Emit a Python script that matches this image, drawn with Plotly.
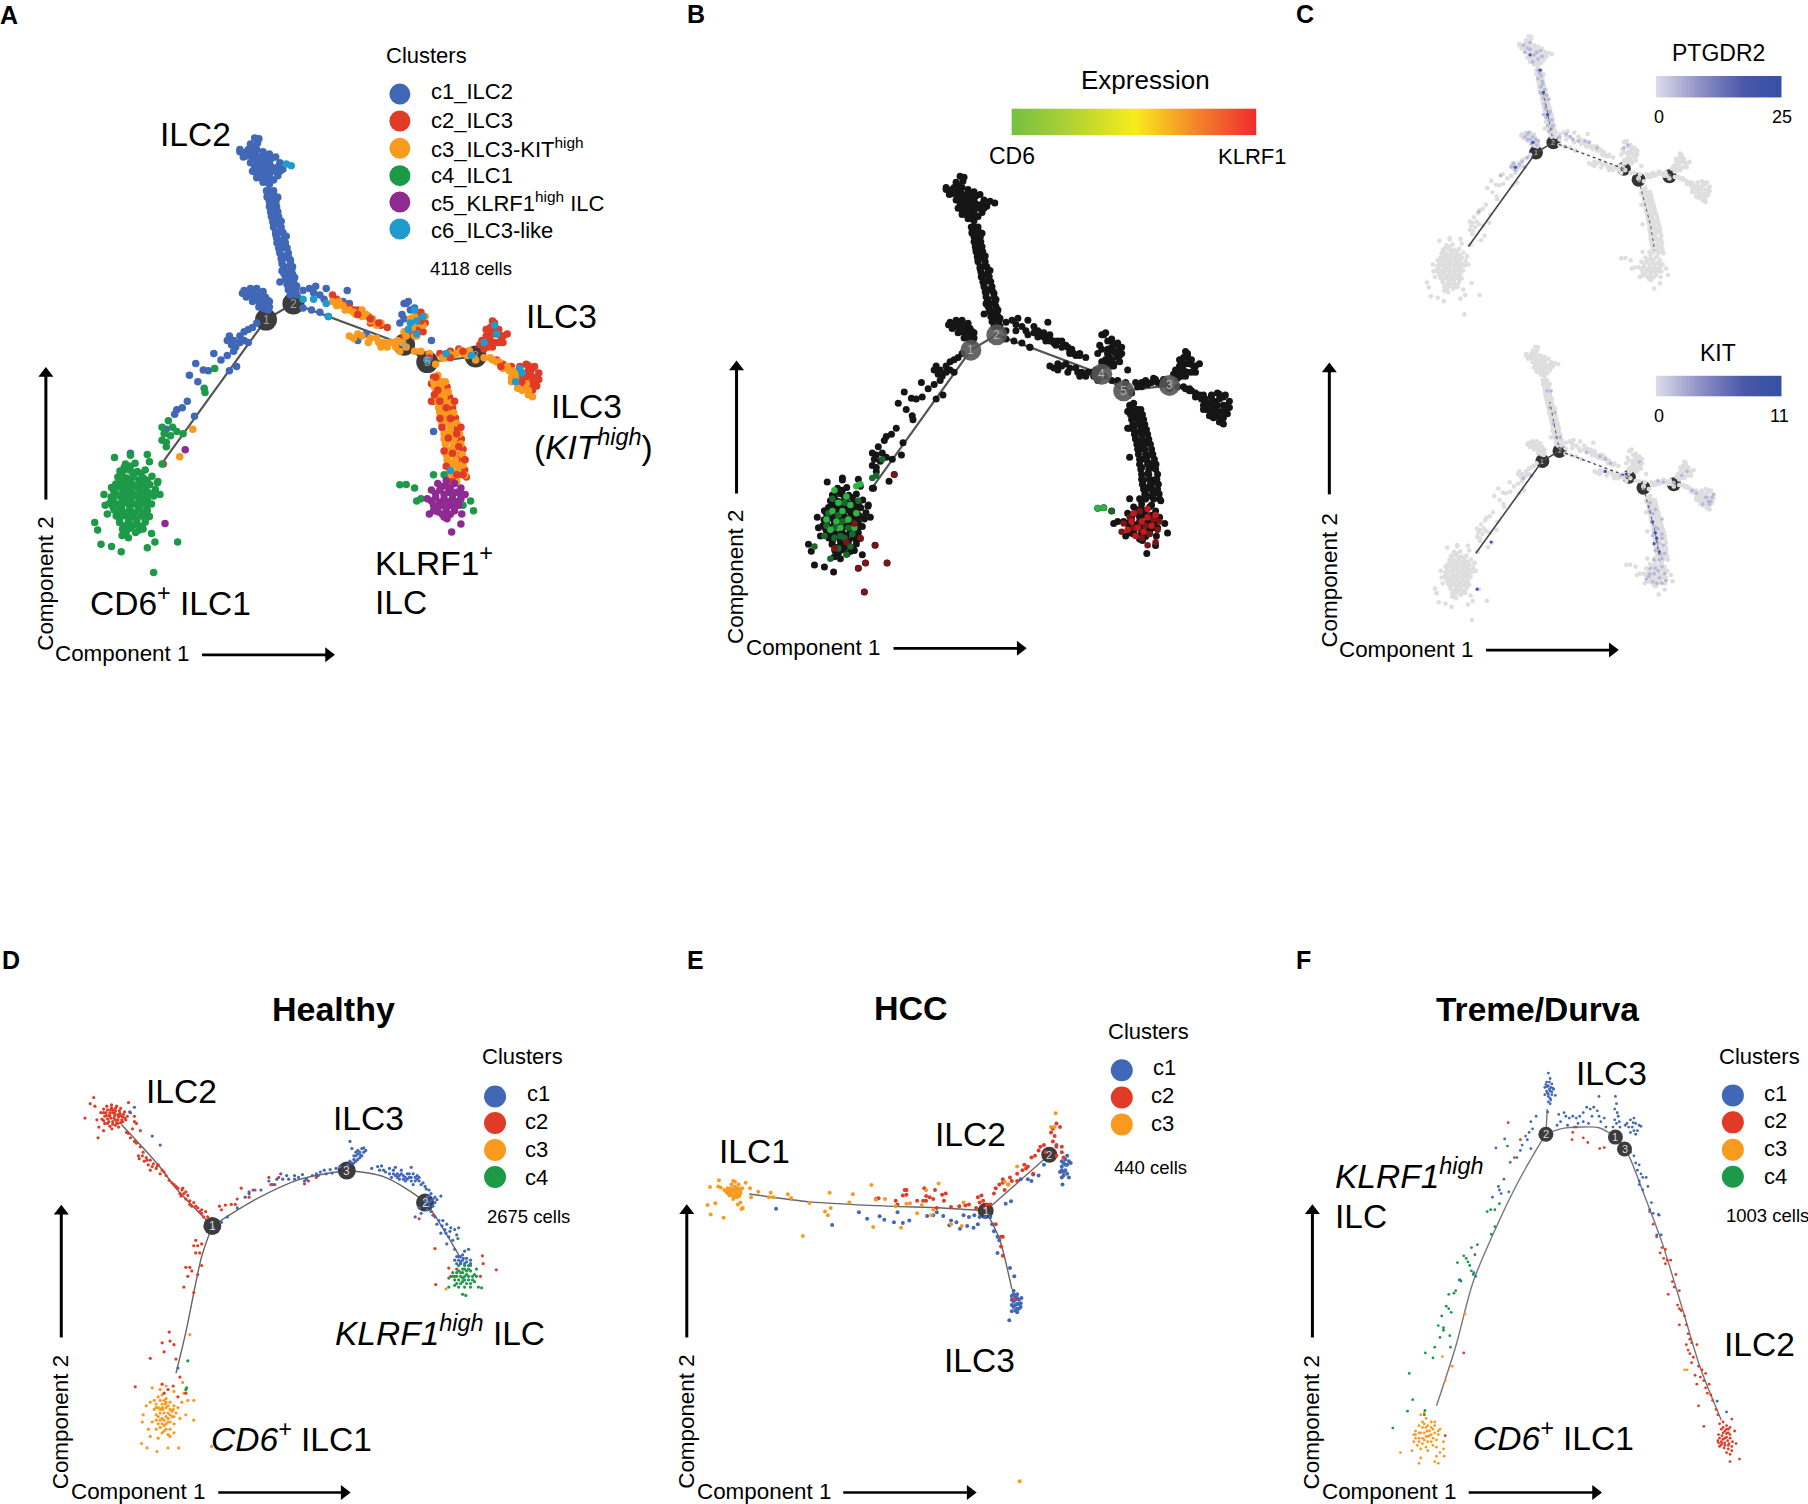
import plotly.graph_objects as go

W, H = 1808, 1504
FONT = "Liberation Sans"
BLUE, RED, ORANGE, GREEN, PURPLE, CYAN = "#4068b6", "#e03b26", "#f89a1d", "#1c9a48", "#8e2b92", "#1f9ccb"

# ---- 4118-cell trajectory (panels A, B, C); Component 1 / Component 2 ----
all_c1 = [(605,318),(612,330),(600,340),(590,345),(570,350),(578,362),(590,358),(610,345),(625,350),(640,355),(655,362),(665,375),(672,390),(660,405),(650,415),(640,425),(625,420),(610,410),(600,395),(595,375),(610,375),(625,375),(640,375),(650,390),(635,395),(620,395),(610,360),(625,362),(640,405),(625,408),
(600,365),(615,365),(630,365),(645,365),(605,385),(615,385),(630,385),(645,385),(660,385),(610,400),(630,410),(645,395),(655,395),(620,410),(600,350),(585,350),(595,332),(615,320),(570,345),(635,420),(640,415),(585,360),(665,395),
(640,440),(650,450),(635,455),(645,470),(660,455),(650,485),(655,500),(645,495),(660,515),(650,520),(665,535),(655,540),(670,555),(660,560),(675,570),(665,580),(680,590),(670,600),(690,600),(675,615),(685,625),(695,615),(680,640),(690,645),(700,640),(685,655),(695,665),(705,660),(665,650),(690,680),(670,625),(680,545),(668,510),(655,465),
(633,440),(650,440),(635,452),(652,452),(640,464),(655,464),(640,476),(657,476),(643,488),(660,488),(645,500),(662,500),(648,512),(665,512),(650,524),(668,524),(655,536),(672,536),(657,548),(675,548),(658,560),(678,560),(662,572),(682,572),(665,584),(685,584),(668,596),(687,596),(670,608),(690,608),(673,620),(693,620),(675,632),(695,632),(678,644),(698,644),(682,656),(700,656),(685,668),(702,668),(705,680),
(580,670),(595,665),(610,665),(625,672),(585,685),(600,680),(615,680),(630,685),(600,695),(615,695),(630,700),(640,695),(615,708),(628,712),(640,708),(590,675),(605,672),(620,685),(608,688),(622,690),(635,692),(622,705),(637,715),(592,680),(576,676),
(545,775),(555,785),(540,785),(550,795),(560,800),(555,810),(570,775),(580,765),(590,760),(600,755),(580,785),(590,790),(610,745),(570,790),(508,815),(525,830),(495,855),(540,820),(465,838),(450,865),(483,853),(470,880),(545,855),(562,845),(420,945),(433,940),(415,955),(462,960),(445,925),(395,990),
(720,670),(735,665),(750,660),(745,675),(760,680),(770,690),(775,665),(825,670),(830,700),(815,695),(720,710),(740,715),(760,720),(780,730),(850,785),(870,770),(965,700),(975,715),(960,735),(950,745),(1025,785),(1030,995),(310,1045),(960,700),(970,695),(985,710),(955,725)]
all_c2 = [(790,680),(810,700),(830,710),(850,715),(875,730),(890,745),(905,750),(920,755),(1000,720),(1005,735),(1000,755),(985,760),(975,770),(960,775),(800,690),(820,705),(840,715),(865,725),(880,745),(990,725),(1010,745),(1005,765),
(1170,740),(1175,755),(1160,770),(1180,770),(1195,775),(1150,790),(1165,785),(1185,790),(1170,800),(1150,805),(1195,790),(1145,785),(1155,775),(1165,755),(1175,745),(1190,775),(1205,770),(1160,800),(1175,790),(1140,795),(1170,770),(1185,760),(1155,760),
(1180,830),(1195,840),(1215,845),(1235,845),(1250,840),(1265,850),(1275,870),(1260,885),(1275,890),(1250,870),(1235,865),(1265,900),(1245,890),(1240,860),(1255,855),(1270,845),(1280,860),(1280,875),(1265,870),(1270,885),(1245,875),(1255,843),
(1030,870),(1060,900),(1070,935),(1040,925),(1075,960),(1080,990),(1085,1020),(1090,1050),(1095,1075),(1030,925),(1060,960),(1085,1060),(1045,815),(1070,810),(1090,805),(388,1070),(1025,925),(1025,885),
(1062,892),(1068,916),(1075,940),(1082,964),(1088,988),(1096,1012),(1100,1036),(1102,1060),(1104,1084),(1108,1100)]
all_c3 = [(830,775),(850,770),(880,780),(900,790),(920,800),(935,790),(950,810),(965,800),(985,810),(1000,810),(1020,815),(1015,830),(1035,840),(800,705),(820,715),(840,720),(860,730),(880,740),(790,695),(805,695),(815,705),(830,715),(845,725),(860,715),(870,725),(885,735),(895,750),(905,745),(840,780),(860,775),(875,790),(895,780),(910,790),(925,790),(905,800),(940,800),(945,785),(955,790),
(1035,880),(1045,895),(1050,915),(1055,935),(1045,950),(1060,975),(1070,1000),(1060,1020),(1075,1035),(1065,1050),(1075,1070),(1085,1090),(1070,1085),(1085,1110),(1060,1000),(1055,960),(1040,865),(1050,880),(1065,1065),(1080,1010),
(1030,880),(1045,880),(1032,892),(1048,892),(1035,904),(1052,904),(1038,916),(1055,916),(1040,928),(1058,928),(1042,940),(1060,940),(1045,952),(1062,952),(1048,964),(1065,964),(1050,976),(1068,976),(1052,988),(1070,988),(1055,1000),(1072,1000),(1055,1012),(1075,1012),(1058,1024),(1078,1024),(1060,1036),(1078,1036),(1060,1048),(1080,1048),(1062,1060),(1082,1060),(1065,1072),(1085,1072),(1068,1084),(1088,1084),(1070,1096),(1090,1096),
(1058,880),(1065,904),(1072,928),(1078,952),(1085,976),(1092,1000),(1095,1024),(1098,1048),(1100,1072),(1105,1096),
(1225,880),(1240,900),(1255,910),(1215,870),(1195,850),(1180,835),(1210,855),(1170,830),(1185,835),(1205,845),(1220,855),(1235,880),(1255,900),(1225,865),(1265,915),(1230,895),(1215,880),(1250,885),
(1050,825),(1065,815),(1085,815),(1100,815),(1110,820),(1130,830),(1150,825),(1165,825),(1060,825),(1075,820),(1095,808),(1115,808),(975,745),(995,745),(985,730),(970,760),(960,765),(1005,750),(990,775),(980,755),(965,775),(985,775),(1010,730),(975,735),(458,990),(427,1053)]
# c2 cells that lie over the c3 cells
all_c2_top = [(1040,900),(1060,940),(1050,985),(1070,965),(1065,1010),(1085,1000),(1075,1045),(1060,1075),(1085,1095),(1045,925),(1035,870),(1090,1030),(1100,1095),(1075,1110),(900,745),(880,735),(850,725),(1000,740),(1020,825),(1070,825),(1100,810),(1240,880),(1260,860),(1190,845),(1032,910),(1045,965),(1055,1040),(1080,925),(1095,985),(1105,1060)]
all_c4 = [(298,1070),(321,1068),(285,1086),(305,1083),(326,1087),(345,1084),(280,1100),(301,1102),(318,1099),(341,1103),(361,1098),(275,1116),(296,1113),(315,1117),(335,1114),(356,1117),(374,1113),(270,1131),(291,1128),(310,1132),(331,1129),(349,1133),(369,1129),(264,1146),(285,1143),(306,1147),(324,1144),(345,1147),(365,1144),(261,1160),(279,1163),(300,1159),(321,1162),(339,1159),(360,1162),(271,1176),(289,1173),(310,1177),(331,1174),(350,1177),(276,1190),(295,1188),(315,1192),(336,1189),(355,1191),(284,1205),(306,1203),(325,1207),(345,1204),(291,1220),(309,1218),(331,1222),
(310,1075),(295,1078),(315,1090),(335,1092),(290,1093),(310,1108),(330,1108),(350,1108),(285,1108),(305,1123),(325,1123),(345,1123),(283,1122),(265,1124),(275,1138),(295,1138),(315,1138),(335,1138),(355,1138),(270,1153),(290,1152),(310,1153),(330,1153),(350,1153),(268,1168),(288,1167),(308,1168),(328,1168),(348,1168),(280,1182),(300,1182),(320,1183),(342,1183),(285,1197),(305,1196),(325,1198),(345,1196),(298,1212),(316,1212),(335,1214),(300,1226),(322,1228),
(272,1055),(310,1050),(350,1048),(355,1065),(375,1110),(380,1140),(247,1140),(250,1165),(225,1205),(232,1222),(240,1255),(265,1260),(288,1272),(350,1263),(368,1250),(422,1250),(365,1320),(340,1220),(360,1230),(290,1235),(305,1240),(255,1185),(385,1070),(395,1030),
(385,985),(400,970),(410,985),(390,1000),(405,1005),(420,995),(435,1000),(395,1020),(385,1015),(510,850),(485,895),(487,905),
(950,1118),(965,1117),(985,1125),(1000,1150),(990,1155),(1030,1095),(1055,1095),(1125,1178),(1118,1155),(1100,1165),(1095,1145)]
all_c5 = [(1060,1108),(1040,1115),(1060,1120),(1080,1115),(1095,1125),(1025,1130),(1045,1130),(1065,1135),(1085,1135),(1105,1140),(1015,1150),(1035,1148),(1055,1150),(1075,1150),(1095,1150),(1030,1165),(1050,1165),(1070,1165),(1090,1165),(1040,1180),(1060,1180),(1080,1178),(1055,1192),(1020,1185),(1097,1185),(1095,1208),(1073,1227),(392,1207),(440,1037),
(1050,1122),(1070,1125),(1035,1138),(1055,1140),(1075,1140),(1095,1138),(1025,1155),(1045,1158),(1065,1157),(1085,1157),(1040,1172),(1060,1172),(1080,1170),(1050,1185),(1070,1186),(1030,1178),(1062,1196)]
all_c6 = [(680,378),(692,382),(975,745),(990,740),(1005,730),(985,715),(1175,750),(1180,770),(1235,850),(1225,880),(1070,1085),(720,690),(745,690),(780,730),(775,700),(1015,830),(990,770),(1060,815),(1120,820),(1150,790),(1240,860),(970,760)]

traj_main = [(380,1075),(632,737),(697,700),(960,795),(1015,835),(1130,822)]
traj_stems = [[(1015,835),(1060,1000),(1075,1090)],[(697,700),(660,520)]]
nodes_main = [(632,737),(697,700),(960,795),(1015,835),(1130,822)]
nodes_main_labels = ["1","2","4","5","3"]

# expression overlays, panel B
cd6_bright = [(290,1075),(320,1090),(300,1105),(330,1110),(285,1125),(310,1125),(345,1130),(270,1145),(295,1150),(325,1145),(305,1165),(280,1170),(340,1165),(345,1065),(355,1060),(950,1118),(965,1117)]
cd6_dark = [(265,1185),(290,1190),(315,1190),(300,1215),(330,1210),(320,1230),(280,1240),(240,1210),(410,1000),(385,1045),(395,1040),(985,1125),(275,1130),(315,1105),(300,1135),(335,1180),(285,1095),(350,1100),(310,1150),(290,1165),(325,1165),(270,1160),(305,1185)]
klrf1_dark = [(355,1190),(340,1155),(320,1200),(290,1215),(350,1263),(368,1250),(422,1250),(392,1207),(440,1037),(365,1320),(1055,1125),(1070,1160),(1090,1145),(1040,1165),(1015,1155),(1100,1170),(1060,1190),(1030,1140),(1080,1180),(1105,1150),(1010,1175),(1075,1207),(1095,1200)]
klrf1_bright = [(1040,1130),(1060,1150),(1075,1140),(1050,1165),(1085,1160),(1065,1175),(1035,1150),(1025,1170),(1095,1135),(1075,1120),(1045,1185)]

# expression overlays, panel C
ptgdr2_light = [(600,360),(625,385),(650,370),(640,400),(645,450),(650,500),(660,540),(670,580),(680,620),(690,650),(590,680),(610,690),(625,700),(600,670),(545,785),(555,800),(580,770),(600,755),(500,820),(770,690),(830,700),(860,720),(960,720),(420,950),(655,480),(665,560),(675,640),(640,695),(560,790),(680,600),(585,350),(610,340),(640,470),(648,520),(672,530),(660,600),(690,620),(620,680),(635,710),(570,780),(550,775),(720,680),(745,670),(790,695),(975,710),
(610,365),(635,375),(620,410),(655,390),(590,375),(640,440),(652,460),(658,490),(665,510),(655,525),(678,545),(668,575),(685,590),(670,610),(695,640),(680,660),(605,665),(630,690),(615,705),(590,790),(540,790),(600,690),(760,680),(815,695),(740,715)]
ptgdr2_dark = [(610,385),(648,440),(660,520),(675,600),(620,700),(555,790)]
kit_light = [(1040,890),(1050,930),(1060,980),(1070,1040),(1080,1080),(1040,1130),(1070,1140),(1095,1150),(1050,1180),(1255,870),(1240,895),(1260,885),(1200,845),(1180,775),(1160,790),(800,705),(850,720),(890,745),(660,540),(675,600),(685,650),(590,790),(560,800),(1085,1020),(1055,1100),(1025,1170),(1075,1165),(1000,740),(1090,815),(1070,1060),(1055,1000),(1085,950),(1075,1100),(1035,1160),(1060,1130),(1085,1185),(1275,870),(1270,885),(1070,810),(1040,920),(650,480),(680,560),(870,730),(930,790),
(1035,905),(1060,915),(1045,960),(1070,985),(1050,1010),(1085,1005),(1065,1030),(1090,1045),(1060,1065),(1095,1075),(1085,1095),(1055,1150),(1085,1125),(1100,1175),(1040,1150),(1065,1185),(1280,860),(1265,895),(1250,870),(1215,855),(1130,815),(700,650),(665,480)]
kit_dark = [(1060,1000),(1055,1040),(1050,960),(870,775),(950,785),(438,1034),(1065,1020),(1075,1070),(385,1207)]

# ---- panel D (Healthy) ----
healthy_c1 = [(560,785),(575,770),(600,745),(620,715),(630,705),(640,695),(660,695),(680,670),(690,680),(700,665),(710,650),(715,665),(725,655),(745,655),(755,660),(765,652),(775,665),(790,655),(800,650),(810,645),(820,640),(835,638),(850,635),(825,650),(840,648),(860,630),(805,655),(770,670),(745,665),(730,665),
(885,560),(890,580),(895,600),(905,595),(915,580),(920,590),(910,605),(900,615),(890,620),(880,625),(915,600),(900,590),(925,585),(895,610),(905,610),(910,590),(900,600),(905,585),(895,620),(885,615),(912,598),(920,578),
(940,635),(955,630),(970,640),(965,628),(985,635),(995,650),(1005,650),(1020,655),(1030,665),(1040,660),(1050,670),(1060,670),(990,660),(1010,665),(1025,670),(1045,680),(1035,650),(1015,640),(1065,680),(1075,685),(1085,695),(1040,632),(1000,632),(1055,655),
(985,650),(995,640),(1005,660),(1015,650),(1025,660),(1030,650),(1040,670),(1050,660),(1020,665),(1035,660),(1045,650),(1055,665),(1010,655),(1000,655),(1060,660),(1070,675),(1078,692),(1090,705),(975,645),(960,640),
(1085,712),(1100,715),(1115,712),(1090,725),(1100,730),(1085,740),(1075,735),(1060,745),(1065,760),(1050,770),(1090,755),(1080,715),(1095,720),(1105,722),(1075,725),(1085,730),(1080,750),(1095,740),
(1100,770),(1110,780),(1120,780),(1105,790),(1130,790),(1125,805),(1115,815),(1140,800),(1150,805),(1160,800),(1135,825),(1145,835),(1130,845),(1155,820),(1150,860),(1165,880),(1175,865),(1185,860),(1160,890),(1170,890),(1180,895),(1165,900),(1190,900),(1155,900),
(1160,880),(1170,875),(1180,885),(1165,895),(1175,900),(1185,905),(1150,890),(1172,885),(1190,890),(1155,880),(1118,795),(1128,815),(1138,810),
(385,545),(405,570),(340,465),(328,478),(450,1190),(540,800)]
healthy_c2 = [(255,480),(262,470),(270,462),(282,458),(295,462),(305,468),(315,478),(322,490),(318,500),(305,508),(292,515),(278,518),(265,510),(258,498),(268,480),(280,472),(292,475),(303,482),(310,492),(298,500),(285,505),(272,497),(265,490),(278,488),(290,488),(300,492),(285,480),(275,505),(295,508),(310,505),
(262,480),(272,472),(282,466),(292,468),(302,475),(312,485),(316,495),(308,500),(298,486),(288,495),(278,480),(268,488),(262,502),(272,510),(285,512),(298,510),(280,495),(292,500),(285,472),(275,488),(305,488),(290,482),
(237,438),(228,455),(240,462),(215,495),(245,500),(250,520),(262,530),(283,525),(300,520),(330,480),(340,490),(345,510),(335,525),(355,530),(248,550),(325,538),(340,505),(325,452),
(320,535),(330,550),(345,565),(355,575),(350,600),(360,600),(370,605),(380,612),(365,615),(375,625),(385,630),(395,635),(410,640),(380,640),(420,655),(435,675),(450,690),(460,695),(445,685),(465,705),(475,710),(470,720),(480,725),(490,730),(500,745),(510,750),(520,755),(525,770),(480,735),(505,755),(515,770),(455,705),(400,625),(352,608),
(340,560),(362,590),(372,612),(388,622),(398,628),(405,650),(415,645),(428,668),(440,680),(458,712),(462,690),(470,700),(485,740),(495,740),(510,760),
(555,740),(560,750),(570,737),(585,735),(600,720),(610,690),(630,700),(595,735),(630,715),(645,695),(680,660),(685,680),(695,680),(705,660),(780,670),(770,678),(800,660),
(495,835),(500,850),(490,850),(510,845),(505,870),(495,870),(470,910),(480,910),(485,920),(465,965),(500,930),(510,905),(490,980),(475,935),
(428,1090),(430,1115),(410,1120),(440,1125),(415,1145),(380,1163),(455,1215),(342,1242),(410,1235),(425,1250),(438,1240),(415,1260),(470,1260),(450,1270),(445,1165),
(1100,858),(1095,765),(1060,775),(1135,912),(1102,958),(1220,878),(1255,917),(1222,900),(1140,935),(1215,935),(1155,915)]
healthy_c3 = [(390,1280),(400,1270),(410,1265),(420,1275),(430,1285),(440,1295),(450,1300),(445,1315),(435,1325),(425,1340),(415,1350),(405,1335),(395,1320),(390,1305),(400,1300),(410,1290),(420,1300),(430,1305),(415,1315),(405,1315),(420,1325),(430,1340),(410,1330),(400,1345),(420,1360),(430,1360),(410,1370),(425,1375),(385,1340),(375,1360),(395,1360),(440,1345),(455,1330),(470,1320),(490,1335),(490,1280),(475,1280),(465,1260),(460,1285),(380,1285),(362,1320),(360,1340),(370,1295),(385,1245),(405,1250),(420,1240),(440,1255),(380,1380),(400,1385),(430,1380),(440,1370),(358,1400),(372,1412),(397,1422),(425,1412),(452,1412),(462,1230),(480,1097),(535,1408),(1128,970),(405,1305),(415,1280),
(395,1290),(405,1280),(418,1290),(425,1295),(438,1305),(440,1325),(425,1315),(412,1305),(400,1325),(410,1345),(420,1345),(430,1320),(415,1335),(405,1355),(395,1335),(410,1300),(425,1330),(435,1310),(395,1300),(415,1365),(420,1285)]
healthy_c4 = [(1135,940),(1145,925),(1150,945),(1160,920),(1165,935),(1175,915),(1180,930),(1190,920),(1195,935),(1170,950),(1155,955),(1185,945),(1200,950),(1160,905),(1175,905),(1190,905),(1205,915),(1210,965),(1190,965),(1175,965),(1170,985),(1178,988),(1150,960),(1135,965),(1218,967),(1200,930),(1165,925),(1180,920),(1150,935),(1170,940),(1158,830),(475,1170),(470,1250),(472,1245),
(1155,925),(1170,925),(1185,935),(1175,945),(1160,945),(1165,955),(1180,955),(1145,935),(1195,945),(1170,915),(1155,935),(1185,915),(1175,935),(1190,955),(1160,965),(1205,935)]
healthy_traj = [[(307,513),(400,625),(445,690),(537,795)],[(537,795),(510,880),(470,1090),(445,1205)],[(537,795),(640,725),(760,665),(877,641)],[(877,641),(970,658),(1075,730),(1130,820),(1165,885)]]
healthy_nodes = [(537,795),(877,641),(1075,730)]
healthy_node_labels = ["1","3","2"]

# ---- panel E (HCC) ----
hcc_c1 = [(325,747),(482,792),(557,757),(580,775),(615,768),(628,778),(655,785),(665,757),(680,787),(698,780),(748,767),(765,765),(775,757),(793,767),(815,780),(810,793),(830,785),(840,803),(860,795),(878,800),(890,790),(850,765),(865,770),(880,765),(895,770),(910,770),(925,770),(930,790),(935,810),(945,825),(950,835),(945,870),(980,912),(992,935),(968,733),(983,726),(1010,665),(1030,665),(1040,670),(1045,652),(1060,655),(1075,625),(1140,600),(1135,610),(1125,615),(1150,620),(1140,625),(1125,630),(1135,640),(1120,645),(1130,655),(1145,660),(1125,660),(1127,680),(1110,570),(1130,620),(1145,615),(1130,645),(1140,650),(1125,640),(1135,625),
(990,975),(1000,985),(985,990),(1005,1000),(990,1005),(1010,1010),(995,1015),(985,1015),(1005,1025),(1000,1035),(985,1032),(1012,995),(978,1057),(995,1000),(1000,1012),(995,990),(1005,1012),(990,1020),(1000,1025),(995,1030),(1010,1020),(985,1000),(1000,995),(990,985)]
hcc_c2 = [(605,720),(612,718),(660,725),(665,735),(685,695),(690,708),(680,710),(720,725),(737,725),(745,712),(755,715),(765,720),(745,725),(790,708),(800,705),(795,725),(775,745),(815,742),(838,740),(855,738),(865,735),(890,715),(900,710),(905,725),(915,735),(895,730),(885,745),(925,735),(910,745),(935,705),(940,690),(950,680),(960,675),(965,695),(980,660),(985,670),(975,680),(1000,650),(1015,640),(1020,625),(1030,630),(1040,605),(1050,600),(1060,585),(1065,575),(1075,570),(1080,590),(1110,510),(1120,520),(1100,525),(1095,535),(1105,545),(1100,560),(1110,575),(1125,575),(1125,590),(1130,605),(1110,600),(955,825),(960,825),(940,790),(955,852),(960,878),(992,998),(1045,650),(1000,670),(960,665),(1025,635),(740,690),(690,695),(770,695)]
hcc_c3 = [(170,688),(180,695),(190,690),(200,680),(210,685),(220,680),(230,690),(225,705),(215,715),(205,720),(195,710),(185,700),(200,700),(210,700),(218,695),(200,690),(205,710),(213,708),(192,700),(222,712),(195,695),(205,695),(215,705),(208,715),(198,705),(190,705),(220,690),(212,690),(225,698),
(140,687),(165,668),(163,685),(205,670),(210,672),(240,675),(252,690),(255,715),(225,730),(218,735),(232,745),(228,748),(133,737),(155,732),(142,763),(178,772),(275,700),(310,703),(318,715),(305,715),(358,707),(367,717),(418,731),(475,703),(478,745),(462,755),(470,765),(400,823),(530,730),(540,707),(592,681),(597,798),(605,722),(630,720),(690,733),(700,732),(660,740),(720,760),(733,737),(745,696),(780,677),(765,750),(760,765),(675,800),(815,790),(845,795),(850,730),(1108,482),(1095,520),(1105,520),(1000,630),(975,680),(965,672),(1007,1505)]
hcc_traj = [[(250,706),(420,728),(640,740),(790,745),(912,753)],[(912,753),(1090,597)],[(912,753),(950,830),(985,970)]]
hcc_nodes = [(912,753),(1090,597)]
hcc_node_labels = ["1","2"]

# ---- panel F (Treme/Durva) ----
treme_c1 = [(825,370),(830,385),(820,395),(835,400),(825,405),(815,410),(840,415),(830,420),(820,420),(835,430),(825,435),(815,430),(845,432),(825,450),(830,455),(838,412),(822,425),(830,440),(823,478),(828,395),(832,410),(822,408),(828,415),(835,422),(818,402),(825,428),(832,445),
(790,490),(775,505),(780,525),(770,535),(760,545),(765,555),(750,570),(745,585),(775,580),(735,605),(716,618),(698,665),(682,685),(685,695),(690,705),(665,715),(712,700),(675,578),(700,553),
(855,485),(860,505),(850,515),(870,480),(875,490),(885,495),(895,490),(905,495),(915,490),(925,480),(935,465),(945,470),(955,465),(965,475),(925,505),(950,490),(970,490),(985,495),(975,505),(990,520),(970,435),(910,510),(880,515),(900,520),(940,510),
(1017,435),(1020,455),(1015,470),(1022,480),(1025,490),(1015,500),(1020,510),(1028,505),(1010,520),(1030,520),
(1050,510),(1060,500),(1070,495),(1075,510),(1085,515),(1065,520),(1055,520),(1070,530),(1060,535),(1080,530),(1075,540),(1045,515),(1090,518),(1068,508),
(1060,590),(1070,600),(1075,620),(1085,625),(1080,640),(1090,650),(1085,670),(1095,660),(1105,660),(1085,680),(1095,695),(1110,685),(1120,730),(1115,750),(1125,760),(1140,763),(1142,765),(1148,820),(1135,820),(1335,1312),(1308,1282),(617,935),(572,945),(575,948),(615,875),(612,925)]
treme_c2 = [(1115,755),(1125,790),(1135,825),(1150,855),(1160,860),(1145,870),(1155,885),(1165,890),(1175,890),(1160,900),(1190,930),(1180,950),(1185,965),(1200,975),(1168,985),(1195,1015),(1200,1025),(1205,1030),(1215,1045),(1220,1070),(1200,1070),(1225,1095),(1230,1110),(1235,1120),(1220,1125),(1250,1125),(1225,1140),(1230,1150),(1240,1160),(1235,1175),(1255,1185),(1265,1195),(1245,1210),(1260,1215),(1275,1205),(1270,1225),(1250,1235),(1285,1235),(1275,1245),(1280,1260),(1290,1265),(1295,1280),(1255,1295),(1305,1305),(1310,1320),(1270,1352),
(1315,1345),(1325,1340),(1335,1350),(1345,1355),(1320,1360),(1330,1365),(1340,1370),(1312,1375),(1322,1378),(1335,1382),(1345,1385),(1310,1392),(1320,1395),(1330,1398),(1342,1400),(1352,1395),(1318,1405),(1328,1412),(1340,1415),(1350,1420),(1335,1425),(1345,1430),(1362,1400),(1345,1450),(1372,1443),(1358,1365),(1350,1332),(1315,1408),
(1325,1355),(1335,1360),(1325,1370),(1335,1372),(1345,1375),(1315,1385),(1325,1388),(1338,1392),(1350,1408),(1330,1405),(1322,1400),(1340,1405),(1330,1385),(1312,1398),(1340,1360),
(710,508),(745,555),(728,605),(895,535),(893,555),(905,520),(925,550),(938,563),(972,580),(985,577),(583,1148),(530,1378)]
treme_c3 = [(445,1365),(455,1350),(465,1340),(475,1330),(490,1340),(500,1350),(515,1360),(510,1375),(495,1385),(480,1395),(465,1400),(455,1385),(445,1385),(440,1395),(470,1370),(485,1365),(495,1360),(460,1370),(475,1380),(490,1375),(505,1390),(480,1350),(470,1315),(460,1320),(450,1405),(460,1415),(475,1410),(495,1405),(505,1410),(525,1395),(527,1435),(515,1425),(505,1435),(500,1450),(510,1455),(460,1440),(455,1455),(435,1420),(402,1425),(440,1375),(480,1420),(525,1415),(587,1040),(522,1158),(550,1185),(530,1225),(1215,1195),(1222,1195),(500,1340),(470,1345),(490,1395),
(465,1355),(475,1355),(485,1378),(500,1370),(465,1385),(455,1370),(470,1390),(480,1380),(490,1355),(445,1375),(455,1395),(478,1365),(510,1365)]
treme_c4 = [(622,847),(605,855),(583,878),(590,885),(565,897),(595,895),(600,905),(605,920),(610,930),(570,945),(560,975),(540,985),(555,982),(533,1018),(540,1025),(547,1035),(520,1045),(510,1072),(525,1078),(525,1085),(515,1105),(543,1100),(500,1132),(545,1132),(473,1148),(495,1162),(427,1205),(437,1278),(422,1310),(472,1308),(380,1357),(470,1320),(672,797),(662,818),(650,755),(660,750),(672,750),(685,733),(708,573)]
treme_traj = [[(505,1295),(560,1130),(610,950),(680,790),(740,670),(805,560),(818,540)],[(818,540),(860,525),(920,520),(970,522),(1017,548),(1043,581)],[(1043,581),(1060,610),(1100,710),(1150,840),(1210,1030),(1260,1190),(1320,1335)],[(818,540),(822,470)]]
treme_nodes = [(818,540),(1017,548),(1043,581)]
treme_node_labels = ["2","1","3"]

# ---- legends ----
clusters_A = ["c1_ILC2","c2_ILC3","c3_ILC3-KIT<sup>high</sup>","c4_ILC1","c5_KLRF1<sup>high</sup> ILC","c6_ILC3-like"]
colors_A = [BLUE, RED, ORANGE, GREEN, PURPLE, CYAN]
clusters_D = ["c1","c2","c3","c4"]
colors_D = [BLUE, RED, ORANGE, GREEN]
clusters_E = ["c1","c2","c3"]
colors_E = [BLUE, RED, ORANGE]
expression_stops = [0, 0.25, 0.5, 0.75, 1]

fig = go.Figure()
layout = dict(width=W, height=H, margin=dict(l=0, r=0, t=0, b=0), paper_bgcolor="white",
              plot_bgcolor="rgba(0,0,0,0)", showlegend=False, hovermode=False)
ax_count = 0
annotations = []

def make_axes(x0, x1, y0, y1, xr, yr):
    global ax_count
    ax_count += 1
    n = "" if ax_count == 1 else str(ax_count)
    layout["xaxis" + n] = dict(domain=[x0 / W, x1 / W], range=list(xr), visible=False, anchor="y" + n, fixedrange=True)
    layout["yaxis" + n] = dict(domain=[1 - y1 / H, 1 - y0 / H], range=list(yr), visible=False, anchor="x" + n, fixedrange=True)
    return "x" + n, "y" + n

def dots(ax, pairs, color, size, opacity=1):
    fig.add_trace(go.Scatter(x=[p[0] for p in pairs], y=[p[1] for p in pairs], xaxis=ax[0], yaxis=ax[1],
                             mode="markers", marker=dict(color=color, size=size, opacity=opacity, line=dict(width=0))))

def path(ax, pairs, color="#555555", width=1.6, spline=False, dash="solid"):
    fig.add_trace(go.Scatter(x=[p[0] for p in pairs], y=[p[1] for p in pairs], xaxis=ax[0], yaxis=ax[1], mode="lines",
                             line=dict(color=color, width=width, dash=dash, shape="spline" if spline else "linear", smoothing=0.8)))

def nodes(ax, pairs, labels, size, color="#3c3c3c", fsize=12, fcolor="#d8d8d8", opacity=1):
    fig.add_trace(go.Scatter(x=[p[0] for p in pairs], y=[p[1] for p in pairs], xaxis=ax[0], yaxis=ax[1],
                             mode="markers", marker=dict(color=color, size=size, opacity=opacity, line=dict(width=0))))
    for p, lab in zip(pairs, labels):
        annotations.append(dict(text=lab, x=p[0], y=p[1], xref=ax[0], yref=ax[1], showarrow=False, xanchor="center", yanchor="middle",
                                font=dict(family=FONT, size=fsize, color=fcolor)))

# (left, top, width, height, zoom width) of each region the values and label places were read in
CROPS = {"A": (0, 0, 660, 680, 1568), "B": (680, 0, 620, 680, 1568), "C": (1300, 0, 508, 680, 1524),
         "D": (0, 940, 620, 564, 1568), "E": (660, 940, 560, 564, 1568), "F": (1260, 940, 548, 564, 1568)}

def rx(c, zx):
    return CROPS[c][0] + zx * CROPS[c][2] / CROPS[c][4]
def ry(c, zy):
    return CROPS[c][1] + zy * CROPS[c][3] / 1568

def txt(c, zx, zy, s, size, anchor="left", bold=False, angle=0):
    shift = -2 if anchor == "left" else 0
    annotations.append(dict(text="<b>%s</b>" % s if bold else s, x=(rx(c, zx) + shift) / W, y=1 - ry(c, zy) / H, xref="paper", yref="paper",
                            xanchor=anchor, yanchor="middle", showarrow=False, textangle=angle,
                            font=dict(family=FONT, size=size, color="#000000")))

def crop_axes(c):
    x0, y0, w, h, zw = CROPS[c]
    return make_axes(x0, x0 + w, y0, y0 + h, (0, zw), (1568, 0))

def arrows(c, vx, vy0, vy1, hx0, hx1, hy):
    ax = crop_axes(c)
    head_x = 7 * CROPS[c][4] / CROPS[c][2]
    head_y = 7 * 1568 / CROPS[c][3]
    path(ax, [(vx, vy0), (vx, vy1 + head_y)], "black", 3)
    path(ax, [(hx0, hy), (hx1 - head_x, hy)], "black", 2.6)
    fig.add_trace(go.Scatter(x=[vx], y=[vy1 + head_y], xaxis=ax[0], yaxis=ax[1], mode="markers",
                             marker=dict(symbol="triangle-up", color="black", size=13, line=dict(width=0))))
    fig.add_trace(go.Scatter(x=[hx1 - head_x], y=[hy], xaxis=ax[0], yaxis=ax[1], mode="markers",
                             marker=dict(symbol="triangle-right", color="black", size=13, line=dict(width=0))))

def legend_dots(ax, colors, xs, ys, size):
    for col, xv, yv in zip(colors, xs, ys):
        dots(ax, [(xv, yv)], col, size)

def comps(c, x2, y2, x1, y1):
    txt(c, x2, y2, "Component 2", 22.4, anchor="center", angle=-90)
    txt(c, x1, y1, "Component 1", 22.4)

# ---- Panel A ----
ax = crop_axes("A")
path(ax, traj_main, "#555555", 2.2)
nodes(ax, nodes_main, nodes_main_labels, 22, fsize=12, fcolor="#a0a0a0")
for pts, col in zip([all_c1, all_c2, all_c3, all_c2_top, all_c4, all_c5, all_c6], [BLUE, RED, ORANGE, RED, GREEN, PURPLE, CYAN]):
    dots(ax, pts, col, 7.5)
legend_dots(ax, colors_A, [950] * 6, [217, 279, 342, 405, 466, 528], 21)
txt("A", 0, 35, "A", 25, bold=True)
txt("A", 918, 127, "Clusters", 22)
for s, yv in zip(clusters_A, [212, 277, 341, 404, 465, 531]):
    txt("A", 1023, yv, s, 22)
txt("A", 1022, 620, "4118 cells", 18.5)
txt("A", 380, 310, "ILC2", 33.5)
txt("A", 1250, 730, "ILC3", 33.5)
txt("A", 1310, 938, "ILC3", 33.5)
txt("A", 1268, 1026, "(<i>KIT<sup>high</sup></i>)", 33.5)
txt("A", 892, 1294, "KLRF1<sup>+</sup>", 33.5)
txt("A", 892, 1390, "ILC", 33.5)
txt("A", 213, 1386, "CD6<sup>+</sup> ILC1", 33.5)
comps("A", 108, 1345, 130, 1508)
arrows("A", 109, 1152, 845, 480, 797, 1510)

# ---- Panel B ----
ax = make_axes(718.7, 1344.3, 44.4, 694.9, (0, 1568), (1568, 0))
path(ax, traj_main, "#555555", 2.2)
for pts in [all_c1, all_c2, all_c3, all_c4, all_c5, all_c6]:
    dots(ax, pts, "#151515", 7)
dots(ax, cd6_dark, "#17692c", 6.5)
dots(ax, cd6_bright, "#2db543", 6.5)
dots(ax, klrf1_dark, "#7a1518", 6.5)
dots(ax, klrf1_bright, "#c3181d", 6.5)
nodes(ax, nodes_main, nodes_main_labels, 21, color="#555555", fsize=12, fcolor="#b5b5b5", opacity=0.9)
txt("B", 18, 33, "B", 25, bold=True)
txt("B", 1178, 185, "Expression", 26, anchor="center")
txt("B", 840, 360, "CD6", 23, anchor="center")
txt("B", 1447, 360, "KLRF1", 22, anchor="center")
comps("B", 142, 1330, 166, 1492)
arrows("B", 143, 1138, 830, 540, 878, 1495)
bar = make_axes(1011.4, 1256.5, 108.4, 135.3, (0, 4), (0, 1))
fig.add_trace(go.Heatmap(z=[expression_stops], x=[0, 1, 2, 3, 4], y=[0.5], xaxis=bar[0], yaxis=bar[1], showscale=False, zsmooth="best",
                         colorscale=[[0, "#76c043"], [0.25, "#b4d334"], [0.5, "#f9ec1c"], [0.75, "#f4862a"], [1, "#ee2a2e"]]))

# ---- Panel C ----
for rect, light, dark in [((1366.6, 1786.8, 3.6, 336.6), ptgdr2_light, ptgdr2_dark), ((1375.5, 1789.5, 314.6, 641.8), kit_light, kit_dark)]:
    ax = make_axes(rect[0], rect[1], rect[2], rect[3], (0, 1568), (1400, 200))
    nodes(ax, nodes_main, nodes_main_labels, 14, color="#333333", fsize=7, fcolor="#bbbbbb")
    for pts in [all_c1, all_c2, all_c3, all_c4, all_c5, all_c6]:
        dots(ax, pts, "#dedede", 4.6)
    dots(ax, light, "#b5b7dd", 3.6)
    dots(ax, dark, "#3f52b0", 3.2)
    path(ax, traj_main[:3], "#444444", 1.6)
    path(ax, traj_main[2:4], "#444444", 1.3, dash="dot")
    for st in traj_stems:
        path(ax, st, "#666666", 1.1, dash="dot")
txt("C", -12, 32, "C", 25, bold=True)
txt("C", 1255, 123, "PTGDR2", 23, anchor="center")
txt("C", 1078, 270, "0", 18, anchor="center")
txt("C", 1445, 270, "25", 18, anchor="center")
txt("C", 1255, 815, "KIT", 23, anchor="center")
txt("C", 1078, 960, "0", 18, anchor="center")
txt("C", 1438, 960, "11", 18, anchor="center")
comps("C", 88, 1338, 118, 1497)
arrows("C", 88, 1140, 835, 558, 958, 1499)
for yb in [(75.9, 97.6), (375.6, 396.4)]:
    bar = make_axes(1655.7, 1781.7, yb[0], yb[1], (0, 4), (0, 1))
    fig.add_trace(go.Heatmap(z=[expression_stops], x=[0, 1, 2, 3, 4], y=[0.5], xaxis=bar[0], yaxis=bar[1], showscale=False, zsmooth="best",
                             colorscale=[[0, "#dcdcec"], [0.35, "#8e90c4"], [0.7, "#4a58a8"], [1, "#3450a4"]]))

# ---- Panel D ----
ax = crop_axes("D")
for seg in healthy_traj:
    path(ax, seg, "#666666", 1.4, spline=True)
nodes(ax, healthy_nodes, healthy_node_labels, 18)
for pts, col in zip([healthy_c3, healthy_c2, healthy_c1, healthy_c4], [ORANGE, RED, BLUE, GREEN]):
    dots(ax, pts, col, 3.2)
legend_dots(ax, colors_D, [1252] * 4, [435, 509, 584, 659], 22)
txt("D", 5, 55, "D", 25, bold=True)
txt("D", 843, 192, "Healthy", 34, anchor="center", bold=True)
txt("D", 1218, 325, "Clusters", 22)
for s, xv, yv in zip(clusters_D, [1332, 1328, 1328, 1328], [428, 505, 582, 659]):
    txt("D", xv, yv, s, 22)
txt("D", 1232, 768, "2675 cells", 18.5)
txt("D", 370, 420, "ILC2", 33.5)
txt("D", 843, 497, "ILC3", 33.5)
txt("D", 847, 1088, "<i>KLRF1<sup>high</sup></i> ILC", 33.5)
txt("D", 533, 1382, "<i>CD6<sup>+</sup></i> ILC1", 33.5)
comps("D", 155, 1340, 180, 1533)
arrows("D", 155, 1105, 735, 552, 888, 1536)

# ---- Panel E ----
ax = crop_axes("E")
for seg in hcc_traj:
    path(ax, seg, "#666666", 1.4, spline=True)
nodes(ax, hcc_nodes, hcc_node_labels, 16, fsize=11)
for pts, col in zip([hcc_c1, hcc_c2, hcc_c3], [BLUE, RED, ORANGE]):
    dots(ax, pts, col, 4)
legend_dots(ax, colors_E, [1293] * 3, [362, 438, 513], 22)
txt("E", 75, 55, "E", 25, bold=True)
txt("E", 703, 190, "HCC", 34, anchor="center", bold=True)
txt("E", 1255, 255, "Clusters", 22)
for s, xv, yv in zip(clusters_E, [1380, 1376, 1376], [355, 432, 510]):
    txt("E", xv, yv, s, 22)
txt("E", 1270, 632, "440 cells", 18.5)
txt("E", 165, 587, "ILC1", 33.5)
txt("E", 770, 542, "ILC2", 33.5)
txt("E", 795, 1170, "ILC3", 33.5)
comps("E", 75, 1340, 103, 1533)
arrows("E", 75, 1105, 733, 513, 888, 1536)

# ---- Panel F ----
ax = crop_axes("F")
for seg in treme_traj:
    path(ax, seg, "#777777", 1.4, spline=True)
for pts, col in zip([treme_c3, treme_c2, treme_c1, treme_c4], [ORANGE, RED, BLUE, GREEN]):
    dots(ax, pts, col, 2.8)
nodes(ax, treme_nodes, treme_node_labels, 15, fsize=11)
legend_dots(ax, colors_D, [1353] * 4, [432, 507, 583, 658], 22)
txt("F", 103, 55, "F", 25, bold=True)
txt("F", 795, 192, "Treme/Durva", 33.5, anchor="center", bold=True)
txt("F", 1313, 325, "Clusters", 22)
for s, yv in zip(clusters_D, [427, 503, 580, 657]):
    txt("F", 1442, yv, s, 22)
txt("F", 1332, 765, "1003 cells", 18.5)
txt("F", 905, 370, "ILC3", 33.5)
txt("F", 216, 650, "<i>KLRF1<sup>high</sup></i>", 33.5)
txt("F", 216, 770, "ILC", 33.5)
txt("F", 1327, 1125, "ILC2", 33.5)
txt("F", 610, 1380, "<i>CD6<sup>+</sup></i> ILC1", 33.5)
comps("F", 150, 1340, 177, 1533)
arrows("F", 150, 1105, 733, 597, 980, 1536)

layout["annotations"] = annotations
fig.update_layout(**layout)
fig.write_html("out.html", config={"displayModeBar": False},
               post_script="document.body.style.margin='0';document.documentElement.style.overflow='hidden';")
